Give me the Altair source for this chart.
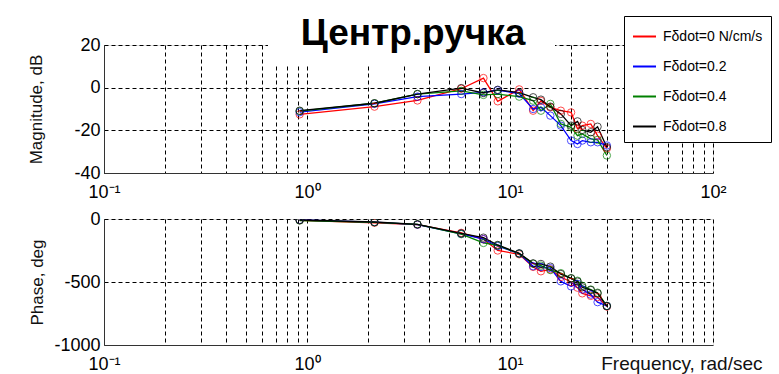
import altair as alt
import pandas as pd

# ---- data ----
freqs = [0.92, 2.15, 3.5, 5.75, 7.4, 8.7, 11.1, 13.0, 14.2, 15.8, 17.8, 20.0, 21.5, 22.7, 25.0, 27.0, 30.0]
series_names = ["Fδdot=0 N/cm/s", "Fδdot=0.2", "Fδdot=0.4", "Fδdot=0.8"]
series_colors = ["#ff0000", "#0000ff", "#008000", "#000000"]

mag_0 = [-12.5, -8.9, -6.0, -0.5, 4.5, -6.4, -0.8, -10.8, -6.2, -9.2, -10.8, -11.6, -19.3, -17.8, -17.0, -22.5, -28.5]
mag_02 = [-11.5, -7.6, -4.2, -3.0, -2.2, -1.2, -2.8, -10.0, -9.2, -13.1, -17.8, -24.8, -26.4, -24.8, -25.6, -25.6, -27.1]
mag_04 = [-11.0, -7.3, -3.0, -1.5, -3.4, -3.0, -4.2, -6.1, -10.8, -7.6, -17.0, -18.6, -22.5, -21.7, -24.0, -24.5, -31.8]
mag_08 = [-10.8, -7.3, -3.0, -0.2, -2.5, -1.0, -2.3, -4.5, -5.6, -8.9, -12.3, -17.8, -15.8, -19.8, -20.9, -18.3, -27.9]

ph_0 = [-10, -30, -45, -110, -160, -250, -280, -380, -415, -400, -460, -500, -545, -590, -610, -620, -695]
ph_02 = [-8, -25, -45, -118, -160, -215, -275, -375, -380, -390, -495, -535, -515, -560, -600, -660, -690]
ph_04 = [-12, -26, -42, -120, -190, -210, -275, -355, -370, -405, -430, -470, -490, -530, -560, -585, -690]
ph_08 = [-8, -24, -42, -114, -148, -206, -272, -352, -357, -378, -437, -471, -497, -542, -564, -590, -691]

mag_ticks = [-40, -20, 0, 20]
phase_ticks = [-1000, -500, 0]
title_text = "Центр.ручка"
mag_title = "Magnitude, dB"
phase_title = "Phase, deg"
freq_title = "Frequency, rad/sec"

# ---- build table ----
rows = []
for k, (name, mags, phs) in enumerate(zip(series_names, [mag_0, mag_02, mag_04, mag_08],
                                          [ph_0, ph_02, ph_04, ph_08])):
    for i, (f, m, p) in enumerate(zip(freqs, mags, phs)):
        rows.append({"series": name, "k": k, "i": i, "f": f, "mag": m, "phase": p})
df = pd.DataFrame(rows)

grid_vals = [round(m * 10 ** e, 6) for e in (-1, 0, 1) for m in range(1, 10)] + [100]
label_expr_top = ("abs(datum.value-0.1)<1e-9 ? '10⁻¹' : abs(datum.value-1)<1e-9 ? '10⁰' : "
                  "abs(datum.value-10)<1e-9 ? '10¹' : abs(datum.value-100)<1e-9 ? '10²' : ''")
label_expr_bottom = ("abs(datum.value-0.1)<1e-9 ? '10⁻¹' : abs(datum.value-1)<1e-9 ? '10⁰' : "
                     "abs(datum.value-10)<1e-9 ? '10¹' : ''")

FONT = "Liberation Sans"
AX = dict(grid=True, gridDash=[4, 3], gridColor="#000000", gridOpacity=1, gridWidth=1,
          ticks=False, domainColor="#333333", domainWidth=1,
          labelFont=FONT, labelFontSize=18, labelColor="#000000",
          titleFont=FONT, titleFontSize=17, titleFontWeight="normal", titleColor="#111111")

color_scale = alt.Scale(domain=series_names, range=series_colors)
legend = alt.Legend(title=None, orient="none", legendX=520, legendY=-29,
                    symbolType="stroke", symbolSize=529, symbolStrokeWidth=2,
                    labelFont=FONT, labelFontSize=14, labelColor="#000000",
                    rowPadding=10, padding=8, labelOffset=6, labelLimit=400,
                    strokeColor="#000000", fillColor="#ffffff")


def xenc(is_bottom):
    ax = dict(AX)
    ax.update(values=grid_vals, labelPadding=10, labelFlush=False, labelOverlap=False)
    if is_bottom:
        ax.update(labelExpr=label_expr_bottom, title=freq_title, titleX=658, titleY=24,
                  titleAlign="right", titleBaseline="alphabetic", titleFontSize=19,
                  titleAnchor="end")
    else:
        ax.update(labelExpr=label_expr_top, title=None)
    return alt.X("f:Q", scale=alt.Scale(type="log", domain=[0.1, 100], nice=False),
                 axis=alt.Axis(**ax))


def panel(field, ticks, domain, title, tpad, height, is_bottom):
    yax = dict(AX)
    yax.update(values=ticks, title=title, titlePadding=tpad, labelPadding=4,
               labelExpr="'' + datum.value")
    y = alt.Y(f"{field}:Q", scale=alt.Scale(domain=domain, nice=False), axis=alt.Axis(**yax))
    base = alt.Chart(df)
    line = base.mark_line(strokeWidth=1.3, clip=True).encode(
        x=xenc(is_bottom), y=y,
        color=alt.Color("series:N", scale=color_scale, legend=legend),
        order=alt.Order("i:Q"))
    pts = base.mark_point(shape="circle", filled=False, size=55, strokeWidth=1, clip=True).encode(
        x=alt.X("f:Q"), y=alt.Y(f"{field}:Q"),
        stroke=alt.Stroke("series:N", scale=color_scale, legend=None))
    return alt.layer(line, pts).properties(width=609, height=height)


top = panel("mag", mag_ticks, [-40, 20], mag_title, 28, 128, False)
title_df = pd.DataFrame({"t": [title_text]})
title_bg = alt.Chart(title_df).mark_rect(color="#ffffff").encode(
    x=alt.value(164), x2=alt.value(451), y=alt.value(0), y2=alt.value(19))
title_mark = alt.Chart(title_df).mark_text(
    font=FONT, fontSize=37, fontWeight="bold", align="center", baseline="alphabetic",
    color="#000000").encode(text="t:N", x=alt.value(309), y=alt.value(0))
top = alt.layer(top, title_bg, title_mark).properties(width=609, height=128)

bottom = panel("phase", phase_ticks, [-1000, 0], phase_title, 7, 126, True)

chart = alt.vconcat(top, bottom, spacing=7).properties(
    padding={"left": 27, "top": 14, "right": 0, "bottom": 0}
).configure_view(stroke=None).configure(background="#ffffff")

chart.save("out.html", embed_options={"renderer": "svg", "actions": False})
